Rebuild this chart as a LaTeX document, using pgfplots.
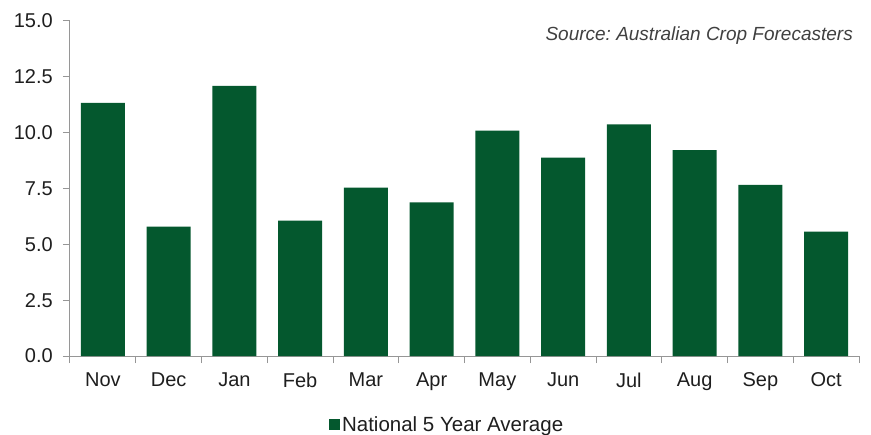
\documentclass[border=0pt]{standalone}
\usepackage{fontspec}
\setmainfont{Liberation Sans}
\usepackage{pgfplots}
\pgfplotsset{compat=1.18}
\definecolor{barg}{RGB}{4,88,46}
\definecolor{axgray}{RGB}{150,150,150}
\definecolor{txt}{RGB}{30,30,30}

\begin{document}
\begin{tikzpicture}
\begin{axis}[
    scale only axis,
    width=789bp, height=335bp,
    xmin=-0.5, xmax=11.5,
    ymin=0, ymax=15,
    axis x line=bottom, axis y line=left,
    axis line style={-, draw=axgray, line width=1bp},
    tick align=outside,
    major tick length=7bp, minor tick length=7bp,
    tick style={draw=axgray, line width=1bp},
    xtick={0,...,11},
    xticklabels={Nov,Dec,Jan,Feb,Mar,Apr,May,Jun,Jul,Aug,Sep,Oct},
    major x tick style={draw=none},
    minor xtick={-0.5,0.5,...,11.5},
    xticklabel style={yshift=-6bp},
    ytick={0,2.5,...,15},
    yticklabel style={/pgf/number format/fixed, /pgf/number format/fixed zerofill,
        /pgf/number format/precision=1, /pgf/number format/assume math mode=true,
        inner xsep=10bp},
    ticklabel style={font=\fontsize{20bp}{24bp}\selectfont, text=txt},
    legend style={at={(0.478,-0.205)}, anchor=center, draw=none, fill=none,
        font=\fontsize{20.5bp}{24bp}\selectfont, text=txt, inner sep=0pt},
    legend image code/.code={\fill[barg] (-5bp,-5.5bp) rectangle (6bp,5.5bp);},
    clip=false,
]
\addplot[ybar, bar width=44bp, fill=barg, draw=none] coordinates {
    (0,11.33) (1,5.79) (2,12.09) (3,6.06) (4,7.54) (5,6.88)
    (6,10.09) (7,8.88) (8,10.37) (9,9.22) (10,7.66) (11,5.57)
};
\addlegendentry{National 5 Year Average}
\node[anchor=base east, font=\fontsize{19bp}{23bp}\selectfont\itshape\frenchspacing, text=txt!85, inner sep=0pt]
    at (rel axis cs:0.9924,0.943) {Source: Australian Crop Forecasters};
\end{axis}
\path (current axis.south west) ++(-70bp,-79bp) rectangle ++(871bp,435bp);
\end{tikzpicture}
\end{document}
